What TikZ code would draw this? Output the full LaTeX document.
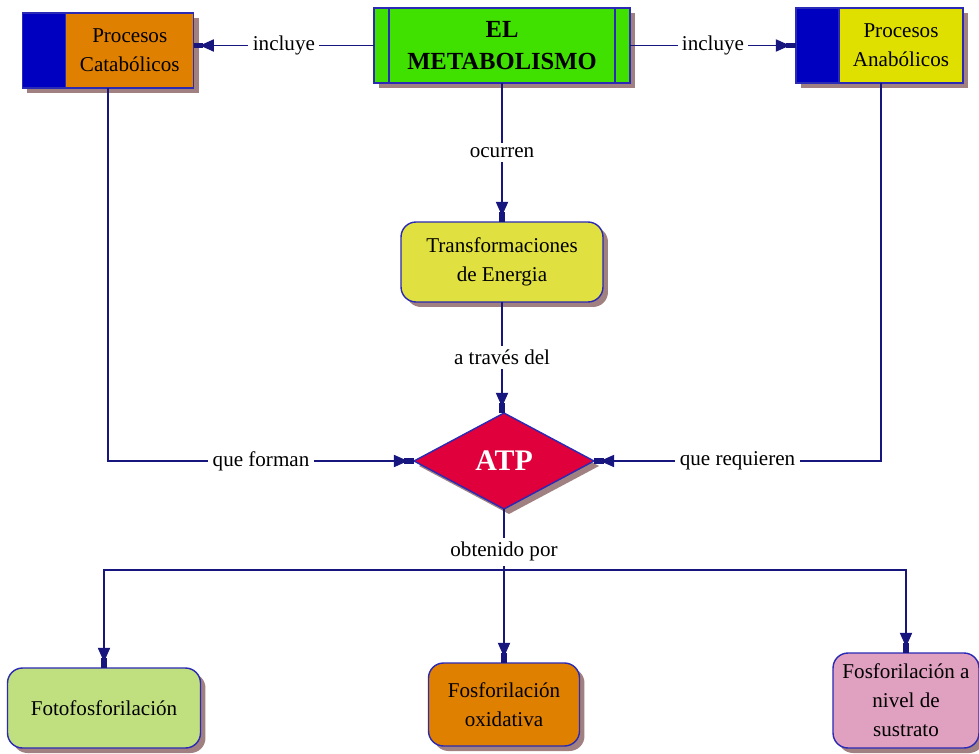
\documentclass[tikz,border=0pt]{standalone}
\usepackage{fontspec}
\setmainfont{Liberation Serif}
\definecolor{navyline}{HTML}{16167E}
\definecolor{rim}{HTML}{2A2AB4}
\definecolor{tabblue}{HTML}{0000C0}
\definecolor{orangebox}{HTML}{E08000}
\definecolor{greenbox}{HTML}{40E000}
\definecolor{yellowbox}{HTML}{E0E000}
\definecolor{olivebox}{HTML}{E0E040}
\definecolor{atpred}{HTML}{E0003C}
\definecolor{limebox}{HTML}{C0E080}
\definecolor{pinkbox}{HTML}{E0A0C0}
\definecolor{shadowgray}{HTML}{A08080}
\usetikzlibrary{
  arrows.meta,
  positioning,
  shapes.geometric,
  shadows
}
\tikzset{
  every node/.style={font=\fontsize{12}{16.5}\selectfont, text=black},
  boxshadow/.style={
    drop shadow={
      shadow xshift=0.1cm,
      shadow yshift=-0.1cm,
      fill=shadowgray,
      opacity=1
    }
  },
  box/.style={
    draw=rim,
    line width=0.8pt,
    align=center,
    inner sep=2pt,
    outer sep=0pt,
    boxshadow
  },
  tab/.style={box, fill=tabblue, minimum width=0.87cm, minimum height=1.5cm},
  proc/.style={box, minimum height=1.5cm},
  roundbox/.style={box, rounded corners=0.3cm},
  link/.style={draw=navyline, line width=0.6pt},
  arrow/.style={link, -{Triangle[length=8pt,width=7pt,sep=-2pt]Rectangle[length=5.5pt,width=3pt]}},
  lbl/.style={fill=white, inner sep=2.5pt}
}

\begin{document}
\begin{tikzpicture}[x=0.02cm, y=-0.02cm]
  \useasboundingbox (0,0) rectangle (979,753);

  % Top row
  \node[box, fill=greenbox, minimum width=5.12cm, minimum height=1.5cm,
        font=\bfseries\fontsize{14}{18}\selectfont,
        path picture={
          \draw[rim, line width=0.8pt]
            ([xshift=0.3cm]path picture bounding box.north west) -- ([xshift=0.3cm]path picture bounding box.south west)
            ([xshift=-0.3cm]path picture bounding box.north east) -- ([xshift=-0.3cm]path picture bounding box.south east);
        }] (meta) at (502,45.5) {EL\\METABOLISMO};

  \node[tab] (catatab) at (44,50.5) {};
  \node[proc, fill=orangebox, minimum width=2.56cm, right=0pt of catatab] (cata) {Procesos\\Catabólicos};

  \node[tab, minimum width=0.86cm] (anatab) at (817.5,45.5) {};
  \node[proc, fill=yellowbox, minimum width=2.48cm, right=0pt of anatab] (ana) {Procesos\\Anabólicos};

  % Middle
  \node[roundbox, fill=olivebox, minimum width=4.04cm, minimum height=1.6cm] (trans) at (502,262) {Transformaciones\\de Energia};
  \node[box, diamond, fill=atpred, minimum width=3.6cm, minimum height=1.92cm, inner sep=0pt,
        text=white, font=\bfseries\fontsize{17}{20}\selectfont] (atp) at (504,461) {ATP};

  % Bottom row
  \node[roundbox, fill=limebox, minimum width=3.86cm, minimum height=1.6cm] (foto) at (104,708) {Fotofosforilación};
  \node[roundbox, fill=orangebox, minimum width=3.02cm, minimum height=1.66cm] (oxid) at (504,704.5) {Fosforilación\\oxidativa};
  \node[roundbox, fill=pinkbox, minimum width=2.92cm, minimum height=1.9cm] (sust) at (906,700.5) {Fosforilación a\\nivel de\\sustrato};

  % Links
  \coordinate (catabot) at (108,88);
  \coordinate (anabot) at (881,83);
  \coordinate (split) at (504,570);

  \draw[arrow] (meta.west) -- node[lbl] {incluye} (meta.west -| cata.east);
  \draw[arrow] (meta.east) -- node[lbl] {incluye} (meta.east -| anatab.west);
  \draw[arrow] (meta.south) -- node[lbl] {ocurren} (trans.north);
  \draw[arrow] (trans.south) -- node[lbl] {a través del} (trans.south |- atp.north);
  \draw[arrow] (catabot) |- node[lbl, pos=0.75] {que forman} (atp.west);
  \draw[arrow] (anabot) |- node[lbl, pos=0.75] {que requieren} (atp.east);

  \draw[link] (atp.south) -- node[lbl, pos=0.7] {obtenido por} (split);
  \draw[arrow] (split) -| (foto.north);
  \draw[arrow] (split) -| (oxid.north);
  \draw[arrow] (split) -| (sust.north);
\end{tikzpicture}
\end{document}
